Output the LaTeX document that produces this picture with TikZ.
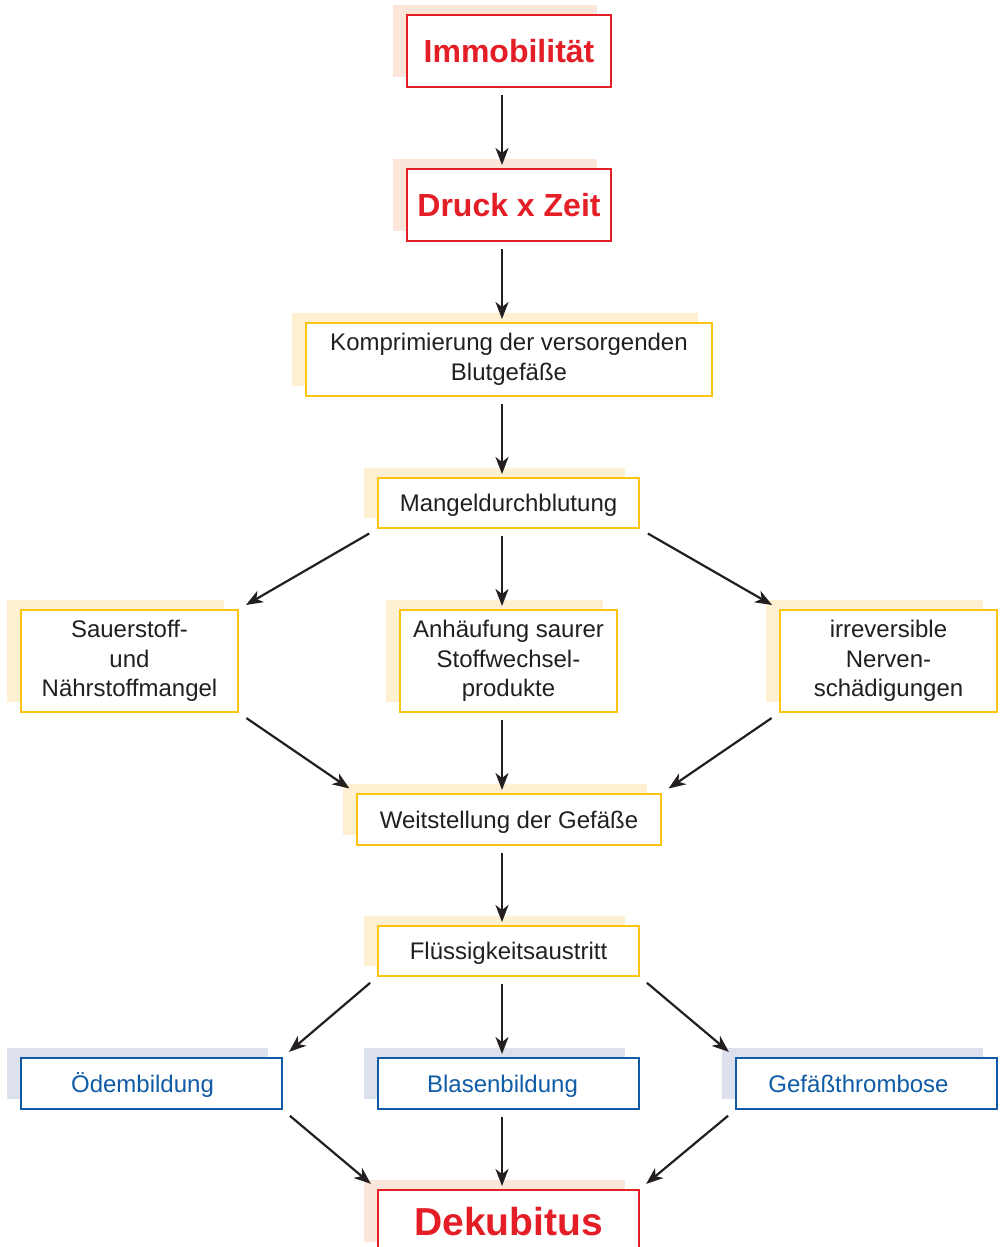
\documentclass[tikz,border=0pt]{standalone}
\usepackage{fontspec}
\setmainfont{Liberation Sans}
\usetikzlibrary{arrows.meta,shadows}

\definecolor{rot}{HTML}{E41E26}
\definecolor{rotschatten}{HTML}{FCE6DA}
\definecolor{gelb}{HTML}{FDC311}
\definecolor{gelbschatten}{HTML}{FEF0D0}
\definecolor{blau}{HTML}{0F5BA6}
\definecolor{blauschatten}{HTML}{DDE1EE}
\definecolor{pfeilfarbe}{HTML}{231F20}

\tikzset{
  kasten/.style={shape=rectangle, draw, fill=white, line width=2pt, inner sep=0pt, align=center,
    drop shadow={shadow xshift=-14pt, shadow yshift=10pt, fill=#1, opacity=1}},
  rotkasten/.style={kasten=rotschatten, draw=rot, text=rot, font=\fontsize{32}{36}\selectfont\bfseries,
    text height=30pt, text depth=7pt},
  gelbkasten/.style={kasten=gelbschatten, draw=gelb, text=pfeilfarbe, font=\fontsize{24}{29.5}\selectfont},
  einzeilig/.style={text height=22pt, text depth=5pt},
  blaukasten/.style={kasten=blauschatten, draw=blau, minimum width=261pt, minimum height=51pt},
  blautext/.style={text=blau, font=\fontsize{24}{29}\selectfont, inner sep=0pt, einzeilig},
  pfeil/.style={draw=pfeilfarbe, line width=2.2pt, -{Stealth[length=17pt, width=13pt, inset=5pt]}},
  gerade/.style={pfeil, shorten <=7pt, shorten >=3pt},
  schraeg/.style={pfeil, shorten <=9pt, shorten >=8pt}
}

\begin{document}
\begin{tikzpicture}[x=1pt, y=-1pt]
        	\useasboundingbox (0, 0) rectangle (1005, 1247);
        	\clip (0, 0) rectangle (1005, 1247);
        	% Kaesten:
        	\node[rotkasten, minimum width=204pt, minimum height=72pt] (imm) at (509, 51) {Immobilität};
        	\node[rotkasten, minimum width=204pt, minimum height=72pt] (druck) at (509, 205) {Druck x Zeit};
        	\node[gelbkasten, minimum width=406pt, minimum height=73pt] (kompr) at (509, 359.5) {Komprimierung der versorgenden\\Blutgefäße};
        	\node[gelbkasten, einzeilig, minimum width=261pt, minimum height=50pt] (mangel) at (508.5, 503) {Mangeldurchblutung};
        	\node[gelbkasten, minimum width=217pt, minimum height=102pt] (sauer) at (129.5, 661) {Sauerstoff-\\und\\Nährstoffmangel};
        	\node[gelbkasten, minimum width=217pt, minimum height=102pt] (anh) at (508.5, 661) {Anhäufung saurer\\Stoffwechsel-\\produkte};
        	\node[gelbkasten, minimum width=217pt, minimum height=102pt] (irr) at (888.5, 661) {irreversible\\Nerven-\\schädigungen};
        	\node[gelbkasten, einzeilig, minimum width=304pt, minimum height=51pt] (weit) at (509, 819.5) {Weitstellung der Gefäße};
        	\node[gelbkasten, einzeilig, minimum width=261pt, minimum height=50pt] (fluss) at (508.5, 951) {Flüssigkeitsaustritt};
        	\node[blaukasten] (oedem) at (151.5, 1083.5) {} node[blautext] at ([xshift=-9pt]oedem.center) {Ödembildung};
        	\node[blaukasten] (blasen) at (508.5, 1083.5) {} node[blautext] at ([xshift=-6pt]blasen.center) {Blasenbildung};
        	\node[blaukasten] (gefaess) at (866.5, 1083.5) {} node[blautext] at ([xshift=-8pt]gefaess.center) {Gefäßthrombose};
        	\node[rotkasten, font=\fontsize{39}{44}\selectfont\bfseries, text height=36pt, text depth=8pt, minimum width=261pt, minimum height=62pt] (dek) at (508.5, 1221) {Dekubitus};
        	% Pfeile:
        	\draw[gerade] ([xshift=-7pt]imm.south) -- ([xshift=-7pt]druck.north);
        	\draw[gerade] ([xshift=-7pt]druck.south) -- ([xshift=-7pt]kompr.north);
        	\draw[gerade] ([xshift=-7pt]kompr.south) -- ([xshift=-6.5pt]mangel.north);
        	\draw[schraeg] (mangel.south west) -- (sauer.north east);
        	\draw[gerade] ([xshift=-6.5pt]mangel.south) -- ([xshift=-6.5pt]anh.north);
        	\draw[schraeg] (mangel.south east) -- (irr.north west);
        	\draw[schraeg] (sauer.south east) -- (weit.north west);
        	\draw[gerade] ([xshift=-6.5pt]anh.south) -- ([xshift=-7pt]weit.north);
        	\draw[schraeg] (irr.south west) -- (weit.north east);
        	\draw[gerade] ([xshift=-7pt]weit.south) -- ([xshift=-6.5pt]fluss.north);
        	\draw[schraeg] (fluss.south west) -- (oedem.north east);
        	\draw[gerade] ([xshift=-6.5pt]fluss.south) -- ([xshift=-6.5pt]blasen.north);
        	\draw[schraeg] (fluss.south east) -- (gefaess.north west);
        	\draw[schraeg] (oedem.south east) -- (dek.north west);
        	\draw[gerade] ([xshift=-6.5pt]blasen.south) -- ([xshift=-6.5pt]dek.north);
        	\draw[schraeg] (gefaess.south west) -- (dek.north east);
        \end{tikzpicture}
\end{document}
